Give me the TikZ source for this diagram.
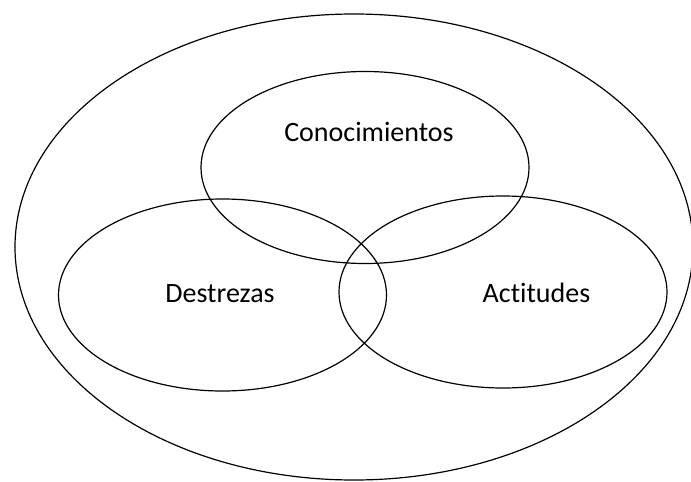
\documentclass[tikz,border=0pt]{standalone}
\usepackage{fontspec}
\setmainfont[Ligatures=NoCommon]{Carlito}
\usepackage{tikz}

\begin{document}
\begin{tikzpicture}[x=1pt,y=-1pt,line width=1.2pt]
        \useasboundingbox (0,0) rectangle (691,482);
        \draw (354,247) ellipse (339 and 233);
        \foreach \cx/\cy in {365/167.5,222.5/295,503/292} {
            \draw (\cx,\cy) ellipse (164 and 96);
        }
        \node[anchor=base,font=\fontsize{28}{32}\selectfont] (con) at (369,141) {Conocimientos};
        \node[anchor=base,font=\fontsize{28}{32}\selectfont] (des) at (220,302) {Destrezas};
        \node[anchor=base,font=\fontsize{28}{32}\selectfont] (act) at (536.5,302) {Actitudes};
        \end{tikzpicture}
\end{document}
